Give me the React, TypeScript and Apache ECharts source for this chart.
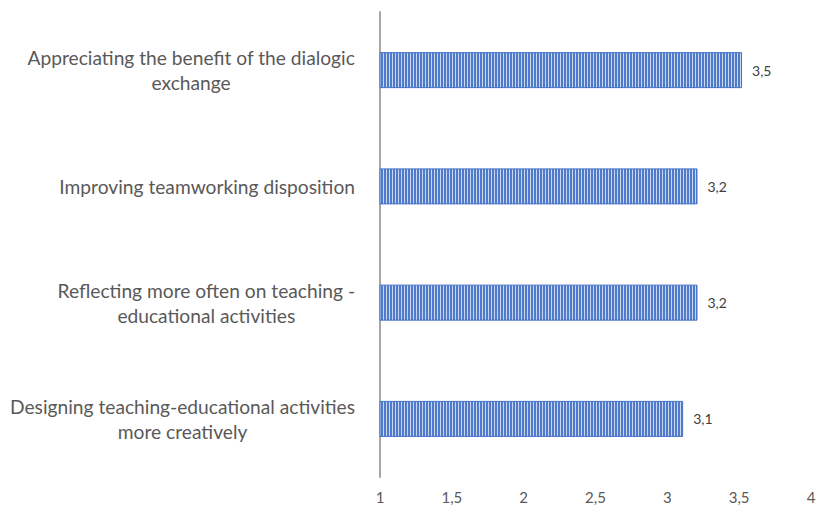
import React, { useEffect, useRef } from "react";
import * as echarts from "echarts";

const categories = [
  "Designing teaching-educational activities\nmore creatively",
  "Reflecting more often on teaching -\neducational activities",
  "Improving teamworking disposition",
  "Appreciating the benefit of the dialogic\nexchange",
];
const values = [3.11, 3.21, 3.21, 3.52];
const valueLabels = ["3,1", "3,2", "3,2", "3,5"];
const xTicks = [1, 1.5, 2, 2.5, 3, 3.5, 4];

export default function App() {
  const ref = useRef<HTMLDivElement>(null);
  useEffect(() => {
    if (!ref.current) return;
    const chart = echarts.init(ref.current, null, { renderer: "svg" });
    const cv = document.createElement("canvas");
    cv.width = 3;
    cv.height = 4;
    const ctx = cv.getContext("2d")!;
    ctx.fillStyle = "#C8D6EF";
    ctx.fillRect(0, 0, 3, 4);
    ctx.fillStyle = "#4F7BCA";
    ctx.fillRect(0, 0, 2, 4);
    const pattern: any = { image: cv, repeat: "repeat", imageWidth: 3, imageHeight: 4 };
    chart.setOption({
      animation: false,
      grid: { left: 380, right: 9, top: 12, bottom: 28, containLabel: false },
      xAxis: {
        type: "value",
        min: 1,
        max: 4,
        interval: 0.5,
        axisLine: { show: false },
        axisTick: { show: false },
        splitLine: { show: false },
        axisLabel: {
          color: "#595959",
          fontFamily: "Lato",
          fontSize: 15,
          margin: 12,
          formatter: (v: number) => {
            const t = xTicks.find((x) => Math.abs(x - v) < 1e-9);
            return t === undefined ? "" : String(t).replace(".", ",");
          },
        },
      },
      yAxis: {
        type: "category",
        data: categories,
        axisLine: { show: true, lineStyle: { color: "#A6A6A6", width: 2 } },
        axisTick: { show: false },
        axisLabel: {
          margin: 25,
          color: "#595959",
          fontFamily: "Lato",
          fontSize: 19.2,
          lineHeight: 25,
          formatter: (v: string) =>
            v
              .split("\n")
              .map((l) => "{c|" + l + "}")
              .join("\n"),
          rich: {
            c: {
              align: "center",
              color: "#595959",
              fontFamily: "Lato",
              fontSize: 19.2,
              lineHeight: 25,
            },
          },
        },
      },
      series: [
        {
          type: "bar",
          data: values,
          barWidth: 36,
          itemStyle: {
            color: pattern,
            borderColor: "#4472C4",
            borderWidth: 1,
          },
          label: {
            show: true,
            position: "right",
            distance: 10,
            color: "#404040",
            fontFamily: "Lato",
            fontSize: 14,
            formatter: (p: any) => valueLabels[p.dataIndex],
          },
        },
      ],
    });
    return () => chart.dispose();
  }, []);
  return (
    <div
      ref={ref}
      style={{ position: "fixed", left: 0, top: 0, width: 820, height: 505, background: "#fff" }}
    />
  );
}
